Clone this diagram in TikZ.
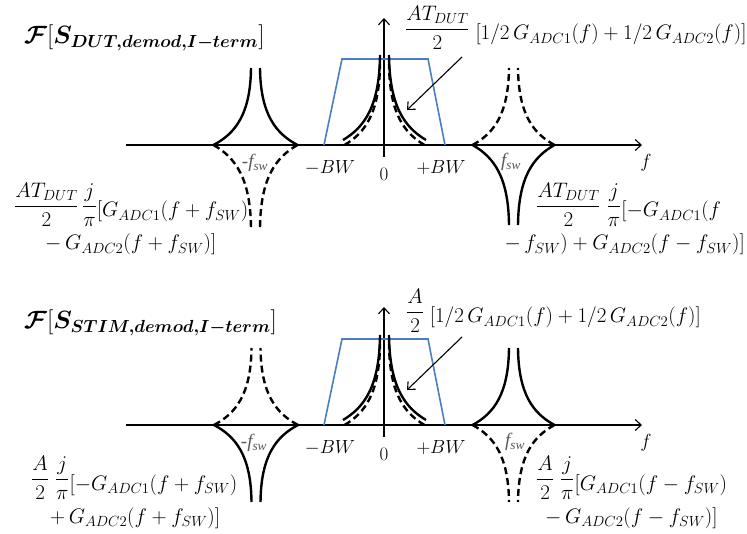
\RequirePackage{fix-cm}
\documentclass[tikz,border=0pt]{standalone}
\usepackage{amsmath,bm}
\usepackage{fontspec}
\newfontfamily\tnr{Liberation Serif}
\usetikzlibrary{arrows.meta}
\definecolor{filtro}{RGB}{74,126,193}
\definecolor{etiq}{RGB}{90,90,90}
% rama doble de un pico: centro x, eje y, semiancho, altura (negativa = arriba), estilo
\newcommand{\spike}[5]{%
  \draw[#5] ({#1-#3},#2) .. controls ({#1-0.48*#3},{#2+0.15*(#4)}) and ({#1-5},{#2+0.4*(#4)}) .. ({#1-4.5},{#2+(#4)});
  \draw[#5] ({#1+#3},#2) .. controls ({#1+0.48*#3},{#2+0.15*(#4)}) and ({#1+5},{#2+0.4*(#4)}) .. ({#1+4.5},{#2+(#4)});}
% parte de la formula un poco mas baja
\newcommand{\bajo}[1]{\raisebox{-5pt}{$#1$}}

\begin{document}
\begin{tikzpicture}
  [x=1pt,y=-1pt,>={Straight Barb[length=6pt,width=11pt]},
   every node/.style={inner sep=0pt,font=\fontsize{19}{23}\selectfont},
   eje/.style={line width=1.1pt,->},
   pico/.style={line width=2.4pt},
   picod/.style={line width=2.4pt,dash pattern=on 7pt off 4pt},
   banda/.style={draw=filtro,line width=1.6pt},
   fsw/.style={text=etiq,font=\fontsize{19}{22}\tnr\itshape},
   formula/.style={anchor=base west,font=\fontsize{21}{25}\selectfont},
   titulo/.style={anchor=west,font=\fontsize{25}{29}\selectfont}]
  \useasboundingbox (0,0) rectangle (747,534);

  % Partes comunes de los dos espectros
  \foreach \oy/\vt [count=\i] in {145/127, 425/118} {
    \draw[eje] (126,\oy) -- (642,\oy);
    \draw[eje] (384,\oy+12) -- (384,\oy-\vt);
    \draw[banda] (324,\oy) -- (342,\oy-86) -- (428,\oy-86) -- (445,\oy);
    \spike{384.5}{\oy}{40}{-81}{picod}
    \spike{384.5}{\oy-5}{41.5}{-85}{pico}
    \node (bwm\i) at (330,\oy+23) {$-BW$};
    \node (cero\i) at (384,\oy+29) {$0$};
    \node (bwp\i) at (441,\oy+23) {$+BW$};
    \node (frec\i) at (646,\oy+18) {$f$};
    \coordinate (desde\i) at (462,\oy-88);
    \coordinate (punta\i) at (407,\oy-35);
    \draw[line width=1.1pt,->] (desde\i) -- (punta\i);
  }

  % Espectro superior
  \spike{255.5}{145}{42}{-77}{pico}
  \spike{255.5}{145}{42}{83}{picod}
  \spike{513.5}{145}{41}{-77}{picod}
  \spike{513.5}{145}{41}{80}{pico}
  \node[fsw] (fswa) at (255,163) {-f\textsubscript{sw}};
  \node[fsw] (fswb) at (511,162) {f\textsubscript{sw}};
  \node[titulo] (tit1) at (24,38) {$\bm{\mathcal{F}}[\bm{S_{DUT,demod,I-term}}]$};
  \node[formula] (cen1) at (405,35) {$\dfrac{AT_{DUT}}{2}\;\bajo{[1/2\,G_{ADC1}(f)+1/2\,G_{ADC2}(f)]}$};
  \node[formula] (izq1a) at (14,212) {$\dfrac{AT_{DUT}}{2}\,\dfrac{j}{\pi}\bajo{[G_{ADC1}(f+f_{SW})}$};
  \node[formula] (izq1b) at (45,250) {$-\,G_{ADC2}(f+f_{SW})]$};
  \node[formula] (der1a) at (536,212) {$\dfrac{AT_{DUT}}{2}\;\dfrac{j}{\pi}\bajo{[-G_{ADC1}(f}$};
  \node[formula,anchor=base east] (der1b) at (745,250) {$-\,f_{SW})+G_{ADC2}(f-f_{SW})]$};

  % Espectro inferior
  \spike{256}{425}{42}{-77}{picod}
  \spike{256}{425}{42}{77}{pico}
  \spike{513.5}{425}{41}{-77}{pico}
  \spike{513.5}{425}{41}{77}{picod}
  \node[fsw] (fswc) at (254,443) {-f\textsubscript{sw}};
  \node[fsw] (fswd) at (515,442) {f\textsubscript{sw}};
  \node[titulo] (tit2) at (24,323) {$\bm{\mathcal{F}}[\bm{S_{STIM,demod,I-term}}]$};
  \node[formula] (cen2) at (406,318) {$\dfrac{A}{2}\;\bajo{[1/2\,G_{ADC1}(f)+1/2\,G_{ADC2}(f)]}$};
  \node[formula] (izq2a) at (31,485) {$\dfrac{A}{2}\;\dfrac{j}{\pi}\bajo{[-G_{ADC1}(f+f_{SW})}$};
  \node[formula] (izq2b) at (50,523) {$+\,G_{ADC2}(f+f_{SW})]$};
  \node[formula] (der2a) at (536,485) {$\dfrac{A}{2}\;\dfrac{j}{\pi}\bajo{[G_{ADC1}(f-f_{SW})}$};
  \node[formula] (der2b) at (545,523) {$-\,G_{ADC2}(f-f_{SW})]$};
\end{tikzpicture}
\end{document}
